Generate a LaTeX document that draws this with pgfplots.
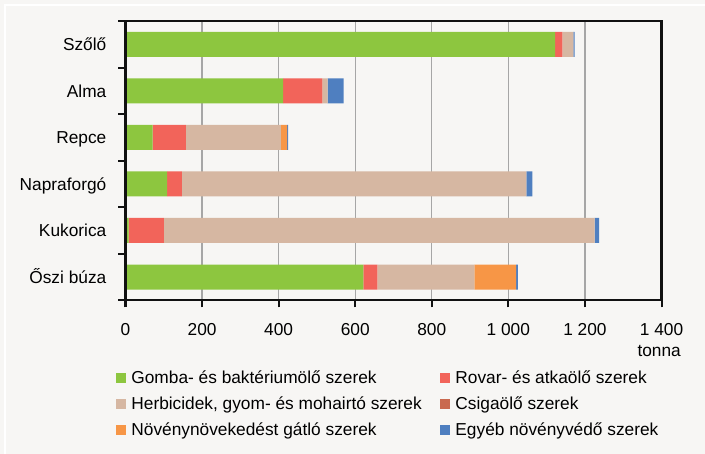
\documentclass[border=0pt]{standalone}
\usepackage{fontspec}
\setmainfont{Liberation Sans}
\usepackage{pgfplots}
\usepackage{pgfplotstable}
\pgfplotsset{compat=1.18}

\definecolor{bgc}{HTML}{F7F6F4}
\definecolor{cblk}{HTML}{111111}
\definecolor{cgomba}{HTML}{8DC63F}
\definecolor{crovar}{HTML}{F2645A}
\definecolor{cherb}{HTML}{D6B7A2}
\definecolor{ccsiga}{HTML}{C9694F}
\definecolor{cnov}{HTML}{F79646}
\definecolor{cegyeb}{HTML}{4F7FC0}
\definecolor{cgrid}{HTML}{A6A6A6}

% y: 0 = Őszi búza (bottom) ... 5 = Szőlő (top), values in tonna
\pgfplotstableread{
y gomba rovar herb csiga nov egyeb
5 1122 19 29 0 0 3
4 412 102 14 0 0 42
3 71 87 248 0 16 3
2 109 38 900 0 0 16
1 8 92 1125 0 0 12
0 621 37 253 0 109 5
}\novenyvedo

\begin{document}
\begin{tikzpicture}[font=\fontsize{17.3bp}{20bp}\selectfont]
\useasboundingbox (0,0) rectangle (705bp,454bp);
\fill[bgc] (0,0) rectangle (705bp,454bp);
\draw[white,line width=2bp] (5bp,0) -- (5bp,449bp) -- (705bp,449bp);
\begin{axis}[
  at={(125.5bp,153.7bp)}, anchor=south west,
  scale only axis, width=536bp, height=279.3bp,
  xbar stacked, bar width=25bp,
  xmin=0, xmax=1400, ymin=-0.5, ymax=5.5,
  xtick={0,200,...,1400},
  ytick={0,...,5},
  yticklabels={Őszi búza,Kukorica,Napraforgó,Repce,Alma,Szőlő},
  ytick style={draw=none},
  extra y ticks={-0.5,0.5,...,5.5},
  extra y tick labels={},
  extra y tick style={ytick style={draw=cblk,line width=2bp}, grid=none},
  xtick style={draw=cblk,line width=2bp},
  tick align=outside,
  xtick pos=left, ytick pos=left,
  major tick length=7bp,
  xmajorgrids, x grid style={cgrid,line width=1.2bp},
  axis line style={draw=cblk,line width=2.2bp},
  xticklabel style={inner sep=0pt,text height=12.4bp,text depth=0pt,yshift=-15.7bp},
  yticklabel style={inner sep=0pt,text height=12.4bp,text depth=0pt,xshift=-12bp},
  /pgf/number format/1000 sep={\ },
  /pgf/number format/assume math mode=true,
  legend columns=2,
  legend cell align=left,
  legend image code/.code={\fill[#1] (0bp,-5bp) rectangle (10bp,5bp);},
  legend style={at={(-0.01866,-0.2535)}, anchor=north west, draw=none, fill=none,
    inner sep=0pt, row sep=13.6bp,
    nodes={inner sep=0pt,text height=12.4bp,text depth=0pt},
    /tikz/every odd column/.append style={column sep=5.7bp},
    /tikz/every even column/.append style={column sep=18bp}},
]
\addplot[fill=cgomba,draw=none] table[x=gomba,y=y] {\novenyvedo};
\addlegendentry{Gomba- és baktériumölő szerek}
\addplot[fill=crovar,draw=none] table[x=rovar,y=y] {\novenyvedo};
\addlegendentry{Rovar- és atkaölő szerek}
\addplot[fill=cherb,draw=none] table[x=herb,y=y] {\novenyvedo};
\addlegendentry{Herbicidek, gyom- és mohairtó szerek}
\addplot[fill=ccsiga,draw=none] table[x=csiga,y=y] {\novenyvedo};
\addlegendentry{Csigaölő szerek}
\addplot[fill=cnov,draw=none] table[x=nov,y=y] {\novenyvedo};
\addlegendentry{Növénynövekedést gátló szerek}
\addplot[fill=cegyeb,draw=none] table[x=egyeb,y=y] {\novenyvedo};
\addlegendentry{Egyéb növényvédő szerek}
\end{axis}
\draw[cblk,line width=2.4bp] (125.5bp,153.7bp) rectangle (661.5bp,433bp);
\node[anchor=base east,inner sep=0pt] at (681bp,97bp) {tonna};
\end{tikzpicture}
\end{document}
